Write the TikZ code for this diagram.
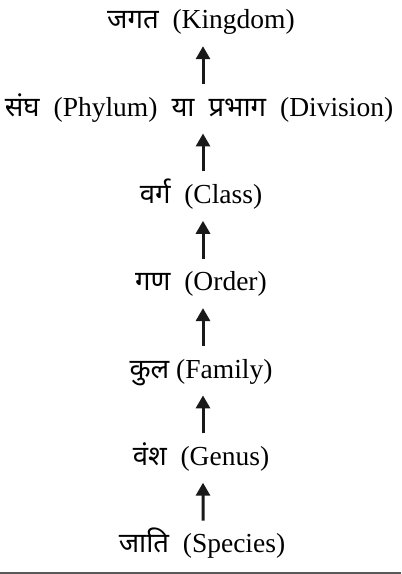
\documentclass[tikz,border=0pt]{standalone}
\usepackage{fontspec}
\setmainfont{Liberation Serif}
\newfontfamily\deva[Script=Devanagari]{Noto Sans}
\usetikzlibrary{arrows.meta}
\begin{document}
\begin{tikzpicture}[x=1bp, y=-1bp,
  rank/.style={anchor=base, inner sep=0pt, text height=20bp, text depth=7bp,
    font=\fontsize{27.5bp}{30bp}\selectfont},
  uparrow/.style={-{Triangle[length=13bp,width=14bp]}, line width=3bp,
    color=black!90, shorten <=12bp, shorten >=10bp}]
\useasboundingbox (0,0) rectangle (401,574);
% taxonomic ranks, top to bottom
\node[rank] (kingdom) at (201,29)    {{\deva जगत}\ \ (Kingdom)};
\node[rank] (phylum)  at (199,116.3) {{\deva संघ}\hspace{14bp}(Phylum)\hspace{14bp}{\deva या}\hspace{14bp}{\deva प्रभाग}\hspace{14bp}(Division)};
\node[rank] (class)   at (201,203.6) {{\deva वर्ग}\ \ (Class)};
\node[rank] (order)   at (201,290.9) {{\deva गण}\ \ (Order)};
\node[rank] (family)  at (201,378.2) {{\deva कुल} (Family)};
\node[rank] (genus)   at (201,465.5) {{\deva वंश}\ \ (Genus)};
\node[rank] (species) at (202,552.8) {{\deva जाति}\ \ (Species)};
% arrows pointing up the hierarchy
\draw[uparrow] ([xshift=2bp]phylum.north -| kingdom)  -- ([xshift=2bp]kingdom.south);
\draw[uparrow] ([xshift=2bp]class.north)   -- ([xshift=2bp]phylum.south -| class);
\draw[uparrow] ([xshift=2bp]order.north)   -- ([xshift=2bp]class.south);
\draw[uparrow] ([xshift=2bp]family.north)  -- ([xshift=2bp]order.south);
\draw[uparrow] ([xshift=2bp]genus.north)   -- ([xshift=2bp]family.south);
\draw[uparrow] ([xshift=1bp]species.north) -- ([xshift=2bp]genus.south);
% rule along the bottom edge
\draw[line width=1.5bp, black!65] (0,573) -- (401,573);
\end{tikzpicture}
\end{document}
